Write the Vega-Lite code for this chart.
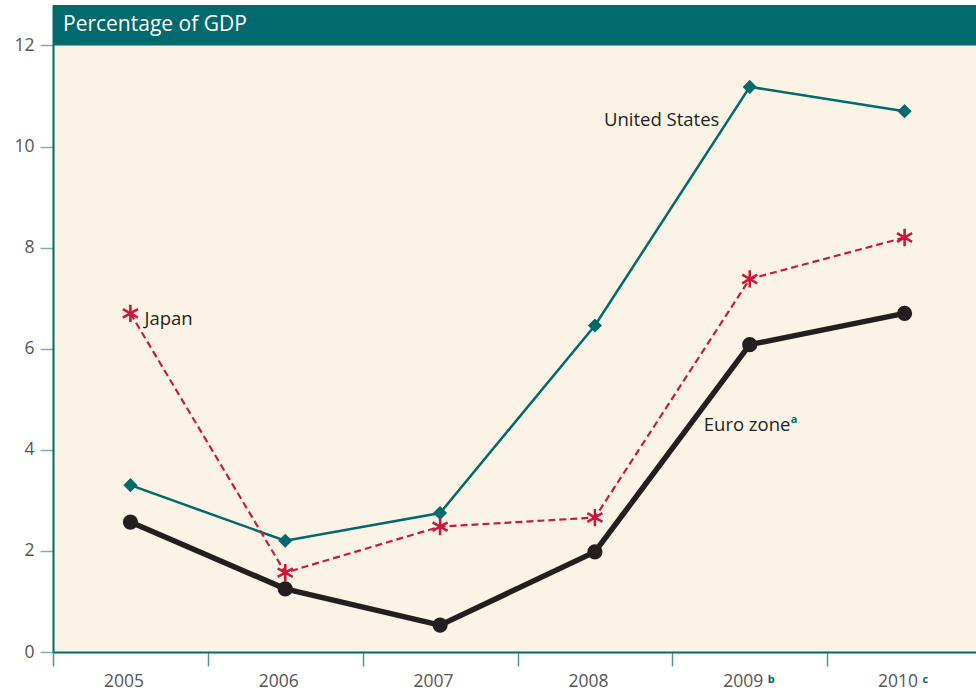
{
  "$schema": "https://vega.github.io/schema/vega-lite/v6.json",
  "width": 929,
  "height": 647,
  "autosize": {"type": "none"},
  "padding": {"left": 53, "top": 5, "right": 0, "bottom": 42},
  "background": "white",
  "config": {
    "view": {"fill": "#fbf4e6", "stroke": null},
    "font": "Open Sans",
    "axis": {"labelFont": "Open Sans", "grid": false}
  },
  "datasets": {
    "series": [
      {"year": "2005", "series": "United States", "value": 3.3},
      {"year": "2006", "series": "United States", "value": 2.2},
      {"year": "2007", "series": "United States", "value": 2.75},
      {"year": "2008", "series": "United States", "value": 6.46},
      {"year": "2009", "series": "United States", "value": 11.18},
      {"year": "2010", "series": "United States", "value": 10.7},
      {"year": "2005", "series": "Japan", "value": 6.7},
      {"year": "2006", "series": "Japan", "value": 1.57},
      {"year": "2007", "series": "Japan", "value": 2.48},
      {"year": "2008", "series": "Japan", "value": 2.66},
      {"year": "2009", "series": "Japan", "value": 7.38},
      {"year": "2010", "series": "Japan", "value": 8.2},
      {"year": "2005", "series": "Euro zone", "value": 2.57},
      {"year": "2006", "series": "Euro zone", "value": 1.25},
      {"year": "2007", "series": "Euro zone", "value": 0.53},
      {"year": "2008", "series": "Euro zone", "value": 1.98},
      {"year": "2009", "series": "Euro zone", "value": 6.08},
      {"year": "2010", "series": "Euro zone", "value": 6.7}
    ]
  },
  "layer": [
    {
      "data": {"values": [{"top": 12.8, "bottom": 12.0}]},
      "mark": {"type": "rect", "fill": "#006a6c"},
      "encoding": {
        "y": {"field": "bottom", "type": "quantitative", "scale": {"domain": [0, 12.8], "nice": false, "zero": true},
              "axis": {"values": [0, 2, 4, 6, 8, 10, 12], "title": null, "domainColor": "#006a6c", "domainWidth": 2,
                       "tickColor": "#7fb0b2", "tickSize": 13, "tickWidth": 1.5, "labelColor": "#555555",
                       "labelFontSize": 17.5, "labelPadding": 6}},
        "y2": {"field": "top"}
      }
    },
    {
      "data": {"values": [{"year": "2005", "value": 12.4, "label": "Percentage of GDP"}]},
      "mark": {"type": "text", "align": "left", "baseline": "middle", "dx": 10, "fontSize": 21, "color": "white"},
      "encoding": {
        "x": {"field": "year", "type": "nominal", "bandPosition": 0},
        "y": {"field": "value", "type": "quantitative"},
        "text": {"field": "label"}
      }
    },
    {
      "data": {"name": "series"},
      "transform": [{"filter": "datum.series === 'United States'"}],
      "mark": {"type": "line", "color": "#006a6c", "strokeWidth": 2.5},
      "encoding": {
        "x": {"field": "year", "type": "nominal", "bandPosition": 0.5,
              "scale": {"type": "band", "domain": ["2005", "2006", "2007", "2008", "2009", "2010"], "paddingInner": 0, "paddingOuter": 0},
              "axis": {"title": null, "labelAngle": 0, "tickBand": "extent", "domainColor": "#006a6c", "domainWidth": 2,
                       "tickColor": "#4f9597", "tickSize": 14, "tickWidth": 1.5, "labelColor": "#555555",
                       "labelFontSize": 17.5, "labelPadding": 15, "labelOffset": 13}},
        "y": {"field": "value", "type": "quantitative"}
      }
    },
    {
      "data": {"name": "series"},
      "transform": [{"filter": "datum.series === 'United States'"}],
      "mark": {"type": "point", "shape": "diamond", "filled": true, "size": 200, "color": "#006a6c", "opacity": 1},
      "encoding": {
        "x": {"field": "year", "type": "nominal", "bandPosition": 0.5},
        "y": {"field": "value", "type": "quantitative"}
      }
    },
    {
      "data": {"name": "series"},
      "transform": [{"filter": "datum.series === 'Japan'"}],
      "mark": {"type": "line", "color": "#c81a3c", "strokeWidth": 2.2, "strokeDash": [7, 4]},
      "encoding": {
        "x": {"field": "year", "type": "nominal", "bandPosition": 0.5},
        "y": {"field": "value", "type": "quantitative"}
      }
    },
    {
      "data": {"name": "series"},
      "transform": [{"filter": "datum.series === 'Japan'"}],
      "mark": {"type": "point", "shape": "M0,-1L0,1M-0.87,-0.5L0.87,0.5M-0.87,0.5L0.87,-0.5", "filled": false, "size": 300,
               "stroke": "#c81a3c", "strokeWidth": 2.6, "opacity": 1},
      "encoding": {
        "x": {"field": "year", "type": "nominal", "bandPosition": 0.5},
        "y": {"field": "value", "type": "quantitative"}
      }
    },
    {
      "data": {"name": "series"},
      "transform": [{"filter": "datum.series === 'Euro zone'"}],
      "mark": {"type": "line", "color": "#231f20", "strokeWidth": 5.5},
      "encoding": {
        "x": {"field": "year", "type": "nominal", "bandPosition": 0.5},
        "y": {"field": "value", "type": "quantitative"}
      }
    },
    {
      "data": {"name": "series"},
      "transform": [{"filter": "datum.series === 'Euro zone'"}],
      "mark": {"type": "point", "shape": "circle", "filled": true, "size": 230, "color": "#231f20", "opacity": 1},
      "encoding": {
        "x": {"field": "year", "type": "nominal", "bandPosition": 0.5},
        "y": {"field": "value", "type": "quantitative"}
      }
    },
    {
      "data": {"values": [{"year": "2008", "value": 10.53, "label": "United States"}]},
      "mark": {"type": "text", "align": "left", "baseline": "middle", "dx": 9, "fontSize": 18.5, "color": "#231f20"},
      "encoding": {
        "x": {"field": "year", "type": "nominal", "bandPosition": 0.5},
        "y": {"field": "value", "type": "quantitative"},
        "text": {"field": "label"}
      }
    },
    {
      "data": {"values": [{"year": "2005", "value": 6.58, "label": "Japan"}]},
      "mark": {"type": "text", "align": "left", "baseline": "middle", "dx": 14, "fontSize": 18.5, "color": "#231f20"},
      "encoding": {
        "x": {"field": "year", "type": "nominal", "bandPosition": 0.5},
        "y": {"field": "value", "type": "quantitative"},
        "text": {"field": "label"}
      }
    },
    {
      "data": {"values": [{"year": "2009", "value": 4.5, "label": "Euro zone"}]},
      "mark": {"type": "text", "align": "left", "baseline": "middle", "dx": -46, "fontSize": 18.5, "color": "#231f20"},
      "encoding": {
        "x": {"field": "year", "type": "nominal", "bandPosition": 0.5},
        "y": {"field": "value", "type": "quantitative"},
        "text": {"field": "label"}
      }
    },
    {
      "data": {"values": [{"year": "2009", "value": 4.58, "label": "a"}]},
      "mark": {"type": "text", "align": "left", "baseline": "middle", "dx": 41, "fontSize": 11, "fontWeight": "bold", "color": "#006a6c"},
      "encoding": {
        "x": {"field": "year", "type": "nominal", "bandPosition": 0.5},
        "y": {"field": "value", "type": "quantitative"},
        "text": {"field": "label"}
      }
    },
    {
      "data": {"values": [{"year": "2009", "value": -0.55, "label": "b"}, {"year": "2010", "value": -0.55, "label": "c"}]},
      "mark": {"type": "text", "align": "left", "baseline": "middle", "dx": 18, "fontSize": 11, "fontWeight": "bold", "color": "#006a6c"},
      "encoding": {
        "x": {"field": "year", "type": "nominal", "bandPosition": 0.5},
        "y": {"field": "value", "type": "quantitative"},
        "text": {"field": "label"}
      }
    }
  ]
}
